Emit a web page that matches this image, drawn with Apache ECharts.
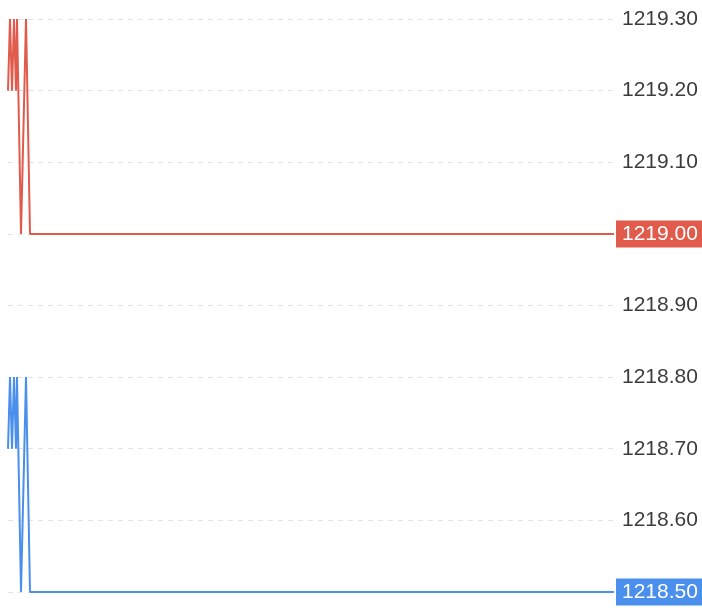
<!DOCTYPE html>
<html>
<head>
<meta charset="utf-8">
<script src="https://cdn.jsdelivr.net/npm/echarts@6/dist/echarts.min.js"></script>
<style>
  html, body { margin: 0; padding: 0; background: #fff; }
  #chart { width: 702px; height: 608px; }
</style>
</head>
<body>
<div id="chart"></div>
<script>
// x positions (elapsed ticks) of each sample
const ticks = [0, 2, 4, 6, 8, 9, 13, 18, 22, 606]
const askValues = [1219.2, 1219.3, 1219.2, 1219.3, 1219.2, 1219.3, 1219.0, 1219.3, 1219.0, 1219.0]
const bidValues = [1218.7, 1218.8, 1218.7, 1218.8, 1218.7, 1218.8, 1218.5, 1218.8, 1218.5, 1218.5]

const red = "#e15b4c"
const blue = "#4a8fec"

const toPairs = (vals) => ticks.map((t, i) => [t, vals[i]])

const lastLabel = (color) => ({
  symbol: "none",
  silent: true,
  lineStyle: { color: color, width: 0, type: "solid" },
  label: {
    position: "end",
    distance: 2,
    formatter: (p) => p.value.toFixed(2),
    color: "#fff",
    backgroundColor: color,
    fontFamily: "Liberation Sans",
    fontSize: 21,
    lineHeight: 21,
    padding: [3, 12, 3, 6]
  }
})

const chart = echarts.init(document.getElementById("chart"))
chart.setOption({
  animation: false,
  grid: { left: 8, right: 88, top: 19, bottom: 16 },
  xAxis: {
    type: "value",
    min: 0,
    max: 606,
    show: false
  },
  yAxis: {
    type: "value",
    position: "right",
    min: 1218.5,
    max: 1219.3,
    interval: 0.1,
    axisLine: { show: false },
    axisTick: { show: false },
    axisLabel: {
      margin: 8,
      color: "#3c3c3c",
      fontFamily: "Liberation Sans",
      fontSize: 21,
      formatter: (v) => v.toFixed(2)
    },
    splitLine: {
      lineStyle: { color: "#e3e3e3", type: [5, 5] }
    }
  },
  series: [
    {
      type: "line",
      data: toPairs(askValues),
      showSymbol: false,
      lineStyle: { color: red, width: 2 },
      itemStyle: { color: red },
      markLine: Object.assign(lastLabel(red), {
        data: [{ yAxis: askValues[askValues.length - 1] }]
      })
    },
    {
      type: "line",
      data: toPairs(bidValues),
      showSymbol: false,
      lineStyle: { color: blue, width: 2 },
      itemStyle: { color: blue },
      markLine: Object.assign(lastLabel(blue), {
        data: [{ yAxis: bidValues[bidValues.length - 1] }]
      })
    }
  ]
})
</script>
</body>
</html>
